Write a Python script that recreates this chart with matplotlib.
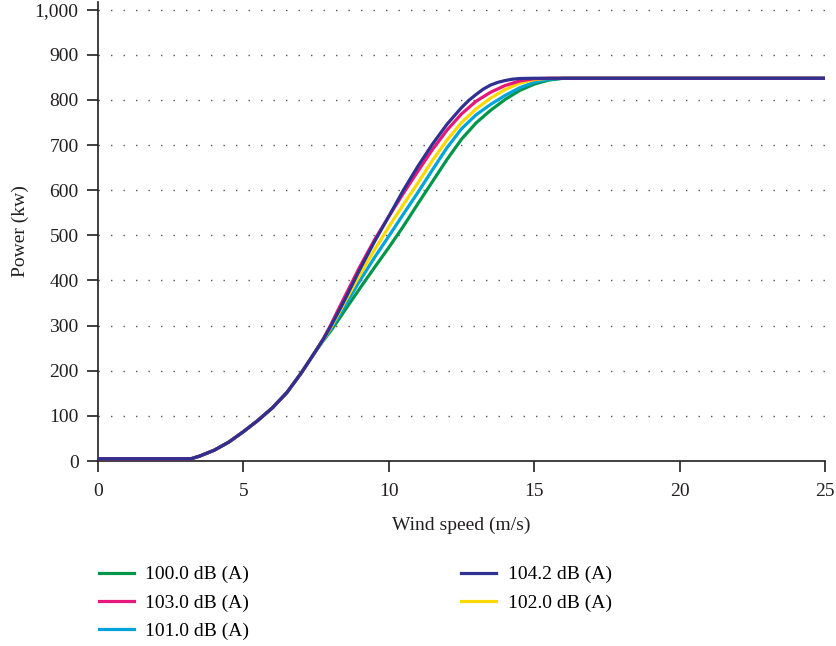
import matplotlib.pyplot as plt
import numpy as np

plt.rcParams["font.family"] = ["Liberation Serif", "DejaVu Serif"]
plt.rcParams["font.size"] = 14

# shared start of the curve (all series coincide here)
x_common = [0, 3.2, 3.5, 4, 4.5, 5, 5.5, 6, 6.5, 7, 7.5]
p_common = [5, 5, 11, 24, 42, 65, 90, 118, 152, 196, 245]

# upper part, per series
x_100 = [7.75, 8, 8.25, 8.5, 9, 9.5, 10, 10.5, 11, 11.5, 12, 12.5, 13, 13.5, 14, 14.5, 15, 15.5, 16, 25]
p_100 = [267, 288, 311, 335, 382, 428, 473, 520, 570, 619, 668, 713, 749, 777, 801, 821, 835, 844, 848, 848]

x_103 = [7.75, 8, 8.25, 8.5, 9, 9.5, 10, 10.5, 11, 11.5, 12, 12.5, 13, 13.5, 14, 14.5, 15, 15.5, 25]
p_103 = [271, 301, 334, 366, 430, 489, 542, 593, 642, 690, 733, 769, 797, 817, 832, 842, 847, 848, 848]

x_101 = [7.75, 8, 8.25, 8.5, 9, 9.5, 10, 10.5, 11, 11.5, 12, 12.5, 13, 13.5, 14, 14.5, 15, 15.5, 16, 25]
p_101 = [268, 292, 318, 345, 399, 450, 498, 547, 595, 645, 694, 736, 767, 790, 810, 827, 839, 846, 848, 848]

x_104 = [7.75, 8, 8.25, 8.5, 9, 9.5, 10, 10.5, 11, 11.5, 12, 12.5, 12.75, 13, 13.25, 13.5, 13.75, 14, 14.25, 14.5, 15, 25]
p_104 = [270, 298, 328, 359, 424, 485, 542, 600, 653, 702, 746, 783, 799, 812, 824, 833, 839, 843, 846, 847.5, 848, 848]

x_102 = [7.75, 8, 8.25, 8.5, 9, 9.5, 10, 10.5, 11, 11.5, 12, 12.5, 13, 13.5, 14, 14.5, 15, 15.5, 25]
p_102 = [269, 295, 324, 354, 412, 467, 519, 568, 616, 666, 711, 750, 780, 804, 823, 837, 845, 848, 848]

series = [
    ("100.0 dB (A)", x_100, p_100, "#00964a", 2),
    ("103.0 dB (A)", x_103, p_103, "#e5177b", 3),
    ("101.0 dB (A)", x_101, p_101, "#00a3da", 2),
    ("104.2 dB (A)", x_104, p_104, "#2e3192", 4),
    ("102.0 dB (A)", x_102, p_102, "#ffd800", 2),
]

fig = plt.figure(figsize=(8.36, 6.46), dpi=100)
ax = fig.add_axes([98 / 836, 185 / 646, 727 / 836, 644 / 646 - 185 / 646])

for label, xs, ps, color, z in series:
    x = np.concatenate([x_common, xs])
    p = np.concatenate([p_common, ps])
    ax.plot(x, p, color=color, linewidth=2.3, label=label, zorder=z,
            solid_joinstyle="round")

ax.set_xlim(0, 25)
ax.set_ylim(0, 1017)
ax.set_xticks(np.arange(0, 26, 5))
ax.set_yticks(np.arange(0, 1001, 100))
ax.set_yticklabels([f"{v:,}" for v in range(0, 1001, 100)])

ax.grid(axis="y", color="#555555", linestyle=(0, (1, 8)), linewidth=1.0)
ax.set_axisbelow(True)
for s in ["top", "right"]:
    ax.spines[s].set_visible(False)
for s in ["left", "bottom"]:
    ax.spines[s].set_color("#231f20")
    ax.spines[s].set_linewidth(1.2)
ax.tick_params(axis="both", direction="out", length=8, width=1.2,
               color="#231f20", labelsize=14, labelcolor="#231f20")
ax.tick_params(axis="y", pad=6)
ax.tick_params(axis="x", pad=8)

ax.set_xlabel("Wind speed (m/s)", fontsize=14, color="#231f20", labelpad=12)
ax.set_ylabel("Power (kw)", fontsize=14, color="#231f20", labelpad=4)

fig.legend(
    loc="upper left",
    bbox_to_anchor=(89 / 836, 1 - 556 / 646),
    ncol=2,
    frameon=False,
    fontsize=14,
    handlelength=1.8,
    handletextpad=0.6,
    columnspacing=10.9,
    labelspacing=0.55,
    borderpad=0,
)

fig.savefig("out.png", dpi=100)
